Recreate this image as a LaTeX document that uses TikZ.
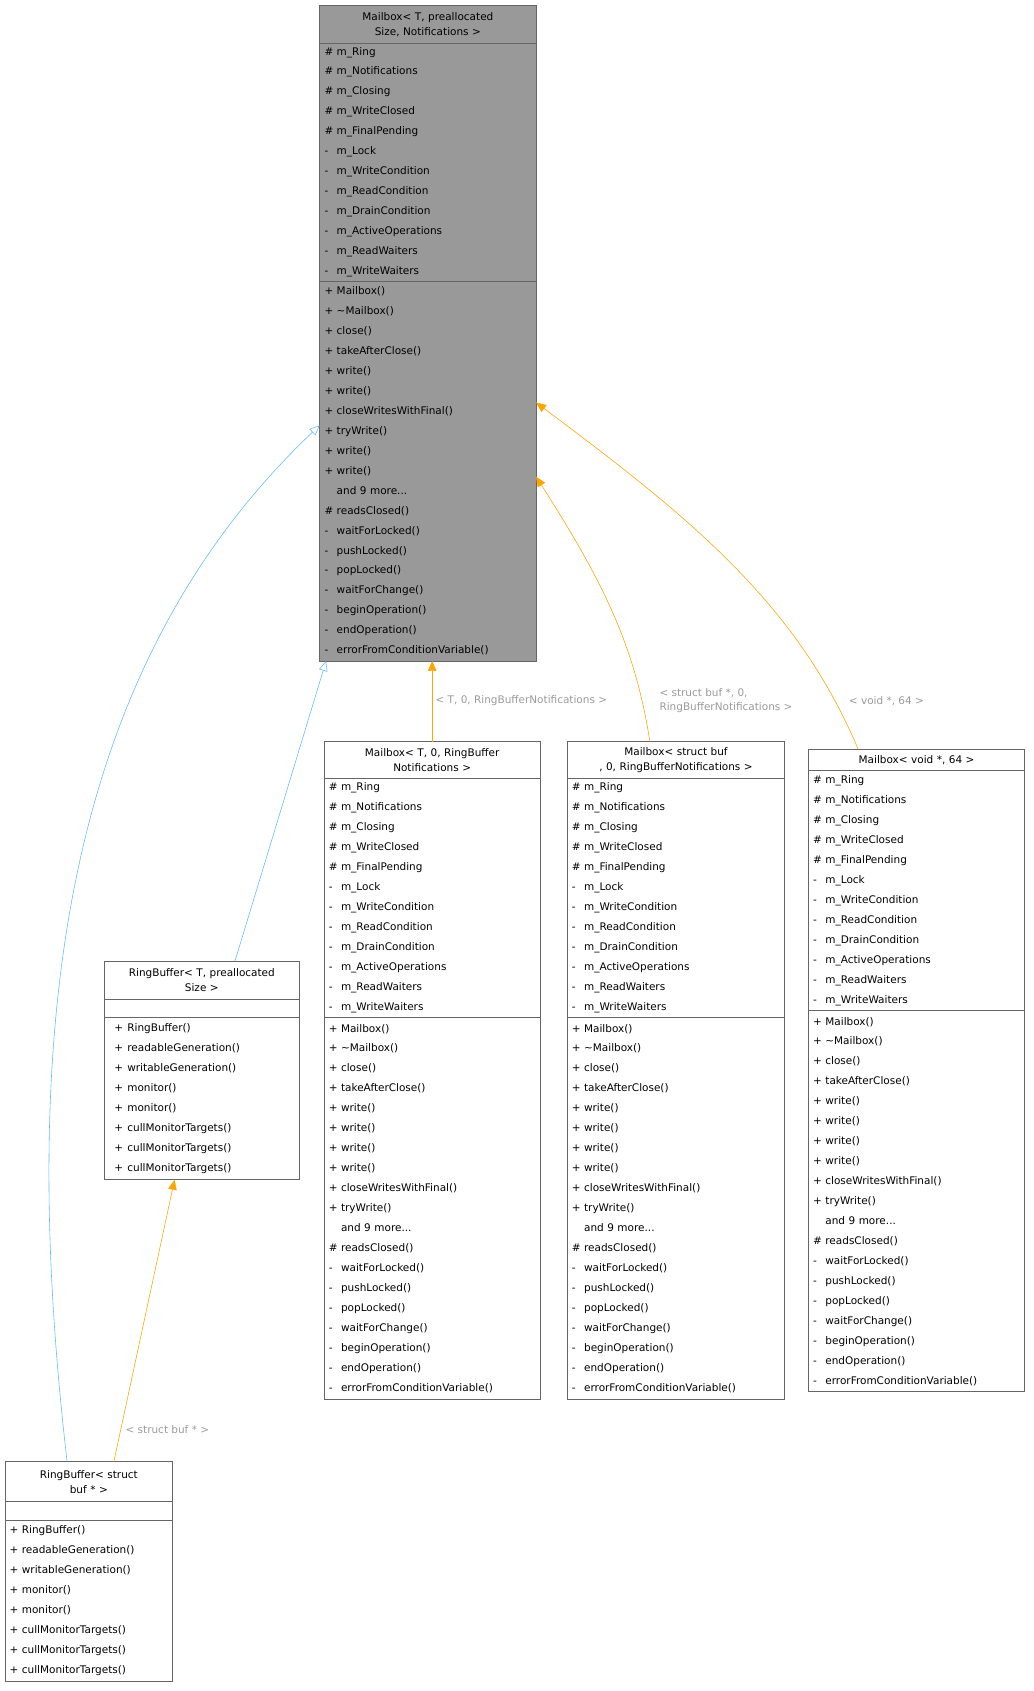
\documentclass[tikz,border=0pt]{standalone}
\usepackage{fontspec}
\setmainfont{DejaVu Sans}
\usetikzlibrary{arrows.meta,positioning,calc}
\definecolor{inhblue}{HTML}{63B8FF}
\definecolor{tplorange}{HTML}{FFA500}
\definecolor{lblgray}{HTML}{9A9A9A}
\newcommand{\mb}[2]{\makebox[8.5pt][l]{#1}#2}
\newcommand{\mw}[2]{\makebox[13pt][l]{\hspace{4pt}#1}#2}
\tikzset{
    cls/.style={
           rectangle,
           draw=black!60, thin,
           outer sep=0pt,
           inner xsep=3pt, inner ysep=0pt,
           },
    ctitle/.style={
           cls,
           align=center,
           font=\fontsize{7.3}{10.5}\selectfont,
           },
    cbody/.style={
           cls,
           align=left,
           font=\fontsize{7.3}{13.9}\selectfont,
           },
    inh/.style={
           -{Triangle[open,length=7pt,width=6pt]},
           draw=inhblue,
           },
    tpl/.style={
           -{Triangle[length=7pt,width=6pt]},
           draw=tplorange,
           },
    tlbl/.style={
           text=lblgray,
           align=left,
           anchor=west,
           font=\fontsize{7.3}{9.5}\selectfont,
           },
}
\newcommand{\attrs}{\mb{\#}{m\_Ring}\\ \mb{\#}{m\_Notifications}\\ \mb{\#}{m\_Closing}\\ \mb{\#}{m\_WriteClosed}\\ \mb{\#}{m\_FinalPending}\\ \mb{-}{m\_Lock}\\ \mb{-}{m\_WriteCondition}\\ \mb{-}{m\_ReadCondition}\\ \mb{-}{m\_DrainCondition}\\ \mb{-}{m\_ActiveOperations}\\ \mb{-}{m\_ReadWaiters}\\ \mb{-}{m\_WriteWaiters}}
\newcommand{\tailops}{\mb{}{and 9 more...}\\ \mb{\#}{readsClosed()}\\ \mb{-}{waitForLocked()}\\ \mb{-}{pushLocked()}\\ \mb{-}{popLocked()}\\ \mb{-}{waitForChange()}\\ \mb{-}{beginOperation()}\\ \mb{-}{endOperation()}\\ \mb{-}{errorFromConditionVariable()}}
\newcommand{\spec}{\mb{+}{Mailbox()}\\ \mb{+}{\textasciitilde Mailbox()}\\ \mb{+}{close()}\\ \mb{+}{takeAfterClose()}\\ \mb{+}{write()}\\ \mb{+}{write()}\\ \mb{+}{write()}\\ \mb{+}{write()}\\ \mb{+}{closeWritesWithFinal()}\\ \mb{+}{tryWrite()}\\ \tailops}
\newcommand{\rbops}[1]{#1{+}{RingBuffer()}\\ #1{+}{readableGeneration()}\\ #1{+}{writableGeneration()}\\ #1{+}{monitor()}\\ #1{+}{monitor()}\\ #1{+}{cullMonitorTargets()}\\ #1{+}{cullMonitorTargets()}\\ #1{+}{cullMonitorTargets()}}

\begin{document}
\begin{tikzpicture}[x=0.75pt,y=-0.75pt]
\useasboundingbox (0,0) rectangle (960,1571);
% generic Mailbox template
\node[ctitle, fill=black!40, text width=144pt, minimum width=150.75pt, minimum height=26.25pt, anchor=north west] (mainT) at (297,5)
{Mailbox\textless{} T, preallocated\\Size, Notifications \textgreater{}};
\node[cbody, fill=black!40, text width=144pt, minimum width=150.75pt, minimum height=165.75pt, below=0pt of mainT] (mainA) {\attrs};
\node[cbody, fill=black!40, text width=144pt, minimum width=150.75pt, minimum height=264.75pt, below=0pt of mainA] (mainM)
{\mb{+}{Mailbox()}\\ \mb{+}{\textasciitilde Mailbox()}\\ \mb{+}{close()}\\ \mb{+}{takeAfterClose()}\\ \mb{+}{write()}\\ \mb{+}{write()}\\ \mb{+}{closeWritesWithFinal()}\\ \mb{+}{tryWrite()}\\ \mb{+}{write()}\\ \mb{+}{write()}\\ \tailops};
% Mailbox< T, 0, RingBufferNotifications >
\node[ctitle, text width=144pt, minimum width=150.75pt, minimum height=25.5pt, anchor=north west] (tzT) at (301,689)
{Mailbox\textless{} T, 0, RingBuffer\\Notifications \textgreater{}};
\node[cbody, text width=144pt, minimum width=150.75pt, minimum height=166.5pt, below=0pt of tzT] (tzA) {\attrs};
\node[cbody, text width=144pt, minimum width=150.75pt, minimum height=266.25pt, below=0pt of tzA] (tzM) {\spec};
% Mailbox< struct buf *, 0, RingBufferNotifications >
\node[ctitle, text width=145pt, minimum width=151.5pt, minimum height=25.5pt, anchor=north west] (sbT) at (527,689)
{Mailbox\textless{} struct buf\\ *, 0, RingBufferNotifications \textgreater{}};
\node[cbody, text width=145pt, minimum width=151.5pt, minimum height=166.5pt, below=0pt of sbT] (sbA) {\attrs};
\node[cbody, text width=145pt, minimum width=151.5pt, minimum height=266.25pt, below=0pt of sbA] (sbM) {\spec};
% Mailbox< void *, 64 >
\node[ctitle, text width=144pt, minimum width=150.75pt, minimum height=15pt, anchor=north west] (vdT) at (751,696)
{Mailbox\textless{} void *, 64 \textgreater{}};
\node[cbody, text width=144pt, minimum width=150.75pt, minimum height=167.25pt, below=0pt of vdT] (vdA) {\attrs};
\node[cbody, text width=144pt, minimum width=150.75pt, minimum height=265.5pt, below=0pt of vdA] (vdM) {\spec};
% RingBuffer< T, preallocatedSize >
\node[ctitle, text width=129.75pt, minimum width=135.75pt, minimum height=26.25pt, anchor=north west] (rbT) at (97,893)
{RingBuffer\textless{} T, preallocated\\Size \textgreater{}};
\node[cbody, text width=129.75pt, minimum width=135.75pt, minimum height=12.75pt, below=0pt of rbT] (rbA) {};
\node[cbody, text width=129.75pt, minimum width=135.75pt, minimum height=113.25pt, below=0pt of rbA] (rbM) {\rbops{\mw}};
% RingBuffer< struct buf * >
\node[ctitle, text width=110.25pt, minimum width=116.25pt, minimum height=27.75pt, anchor=north west] (rbsT) at (5,1358)
{RingBuffer\textless{} struct\\buf * \textgreater{}};
\node[cbody, text width=110.25pt, minimum width=116.25pt, minimum height=12.75pt, below=0pt of rbsT] (rbsA) {};
\node[cbody, text width=110.25pt, minimum width=116.25pt, minimum height=112.5pt, below=0pt of rbsA] (rbsM) {\rbops{\mb}};
% connectors
\coordinate (mainL) at ($(mainM.north west)!0.38!(mainM.south west)$);
\coordinate (mainR1) at ($(mainM.north east)!0.32!(mainM.south east)$);
\coordinate (mainR2) at ($(mainM.north east)!0.515!(mainM.south east)$);
\draw[inh] ($(rbsT.north west)!0.37!(rbsT.north east)$) .. controls (15,950) and (60,620) .. (mainL);
\draw[inh] ($(rbT.north west)!0.67!(rbT.north east)$) -- ($(mainM.south west)+(6,0)$);
\draw[tpl] (tzT.north) -- (tzT.north |- mainM.south);
\draw[tpl] ($(sbT.north west)!0.38!(sbT.north east)$) .. controls (590,600) and (560,540) .. (mainR2);
\draw[tpl] ($(vdT.north west)!0.23!(vdT.north east)$) .. controls (740,560) and (640,480) .. (mainR1);
\draw[tpl] ($(rbsT.north west)!0.65!(rbsT.north east)$) -- ($(rbM.south west)!0.36!(rbM.south east)$);
% template labels
\node[tlbl] (lbTz) at (400,651) {\textless{} T, 0, RingBufferNotifications \textgreater{}};
\node[tlbl] (lbSb) at (608,651) {\textless{} struct buf *, 0,\\RingBufferNotifications \textgreater{}};
\node[tlbl] (lbVd) at (784,651) {\textless{} void *, 64 \textgreater{}};
\node[tlbl] (lbRbs) at (112,1328) {\textless{} struct buf * \textgreater{}};
\end{tikzpicture}
\end{document}
